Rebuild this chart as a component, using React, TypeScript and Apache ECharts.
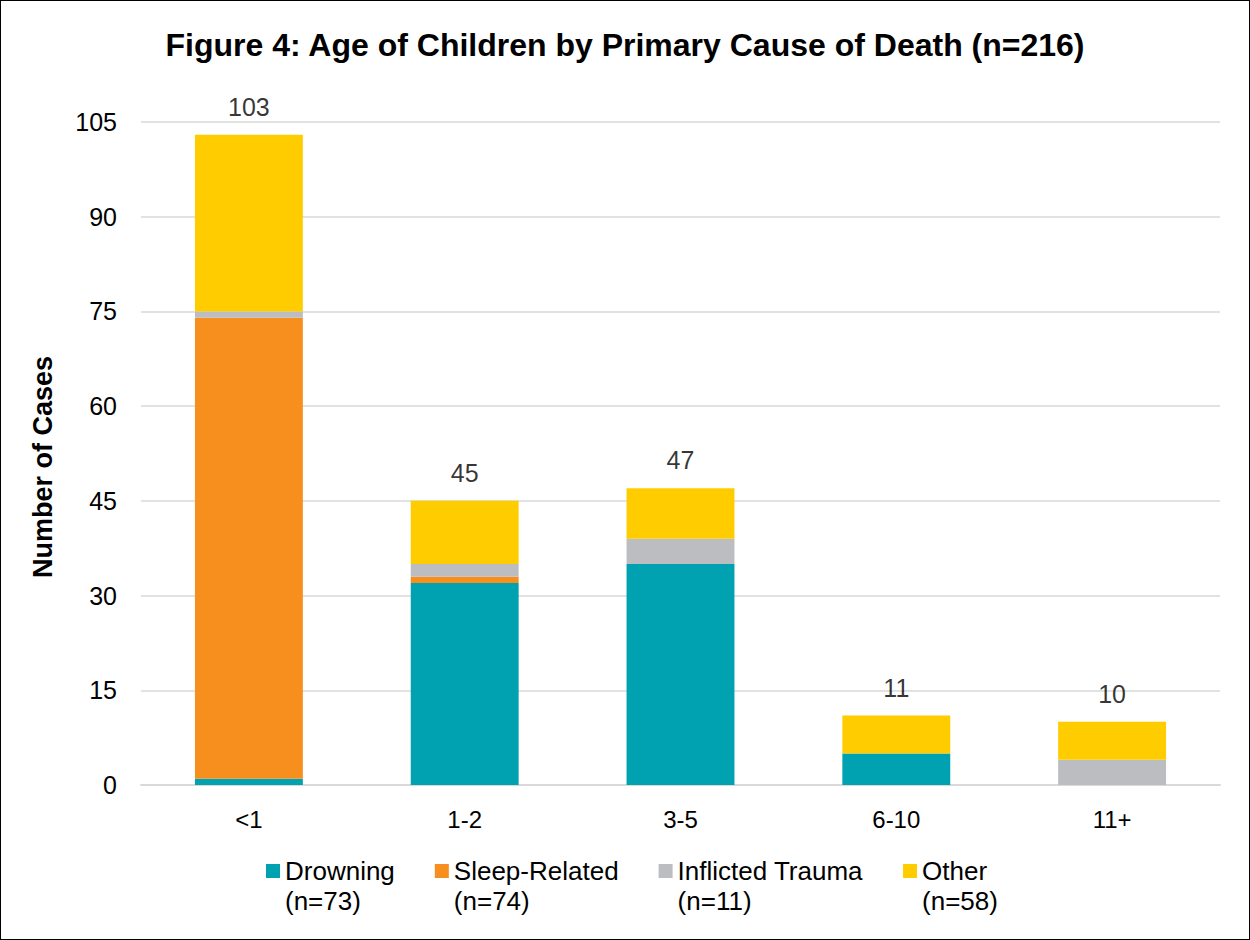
import React, { useEffect, useRef } from "react";
import * as echarts from "echarts";

const categories = ["<1", "1-2", "3-5", "6-10", "11+"];
const drowning = [1, 32, 35, 5, 0];
const sleepRelated = [73, 1, 0, 0, 0];
const inflictedTrauma = [1, 2, 4, 0, 4];
const other = [28, 10, 8, 6, 6];
const seriesNames = ["Drowning", "Sleep-Related", "Inflicted Trauma", "Other"];
const legendCounts = ["(n=73)", "(n=74)", "(n=11)", "(n=58)"];
const seriesColors = ["#00A2B1", "#F78F1E", "#BCBDC0", "#FFCC00"];
const yMin = 0;
const yMax = 105;
const yInterval = 15;
const titleText = "Figure 4: Age of Children by Primary Cause of Death (n=216)";
const yAxisTitle = "Number of Cases";

const FONT = "'Liberation Sans', Arial, sans-serif";

export default function App() {
  const ref = useRef<HTMLDivElement>(null);

  useEffect(() => {
    document.body.style.margin = "0";
    if (!ref.current) return;
    const chart = echarts.init(ref.current, undefined, { renderer: "svg" });
    const values = [drowning, sleepRelated, inflictedTrauma, other];
    const totals = categories.map((_, i) =>
      values.reduce((s, arr) => s + arr[i], 0)
    );
    const countByName: Record<string, string> = {};
    seriesNames.forEach((n, i) => (countByName[n] = legendCounts[i]));

    const barSeries = seriesNames.map((name, i) => ({
      name,
      type: "bar",
      stack: "total",
      barWidth: "50%",
      data: values[i],
      itemStyle: { color: seriesColors[i] },
      emphasis: { disabled: true },
    }));

    chart.setOption({
      animation: false,
      backgroundColor: "#ffffff",
      title: {
        text: titleText,
        left: "center",
        top: 23,
        textStyle: {
          fontFamily: FONT,
          fontSize: 32,
          fontWeight: "bold",
          color: "#000000",
        },
      },
      grid: { left: 140, right: 29, top: 121, bottom: 154 },
      legend: {
        data: seriesNames,
        left: 265,
        top: 855,
        padding: 0,
        itemGap: 40,
        itemWidth: 14,
        itemHeight: 60,
        icon:
          "path://M0,0h0.01v0.01h-0.01Z M0,8h14v14h-14Z M0,59.99h0.01v0.01h-0.01Z",
        formatter: (name: string) => name + "\n" + countByName[name],
        selectedMode: false,
        textStyle: {
          fontFamily: FONT,
          fontSize: 26,
          lineHeight: 30,
          color: "#000000",
        },
      },
      xAxis: {
        type: "category",
        data: categories,
        axisLine: { show: true, lineStyle: { color: "#D9D9D9", width: 2 } },
        axisTick: { show: false },
        axisLabel: {
          margin: 22,
          fontFamily: FONT,
          fontSize: 24,
          color: "#000000",
        },
      },
      yAxis: {
        type: "value",
        min: yMin,
        max: yMax,
        interval: yInterval,
        axisLine: { show: false },
        axisTick: { show: false },
        splitLine: { lineStyle: { color: "#D9D9D9", width: 1.5 } },
        axisLabel: {
          margin: 24,
          fontFamily: FONT,
          fontSize: 25,
          color: "#000000",
        },
      },
      graphic: [
        {
          type: "text",
          x: 42,
          y: 466,
          rotation: Math.PI / 2,
          style: {
            text: yAxisTitle,
            font: "bold 27px " + FONT,
            fill: "#000000",
            align: "center",
            verticalAlign: "middle",
          },
        },
      ],
      series: [
        ...barSeries,
        {
          name: "Total",
          type: "scatter",
          data: totals,
          symbolSize: 1,
          itemStyle: { color: "rgba(0,0,0,0)" },
          emphasis: { disabled: true },
          label: {
            show: true,
            position: "top",
            distance: 15,
            fontFamily: FONT,
            fontSize: 25,
            color: "#000000",
            formatter: (p: any) => String(totals[p.dataIndex]),
          },
          z: 10,
        },
      ],
    });
    return () => chart.dispose();
  }, []);

  return (
    <div
      style={{
        width: 1250,
        height: 940,
        boxSizing: "border-box",
        border: "1px solid #000000",
        background: "#ffffff",
      }}
    >
      <div ref={ref} style={{ width: 1248, height: 938 }} />
    </div>
  );
}
